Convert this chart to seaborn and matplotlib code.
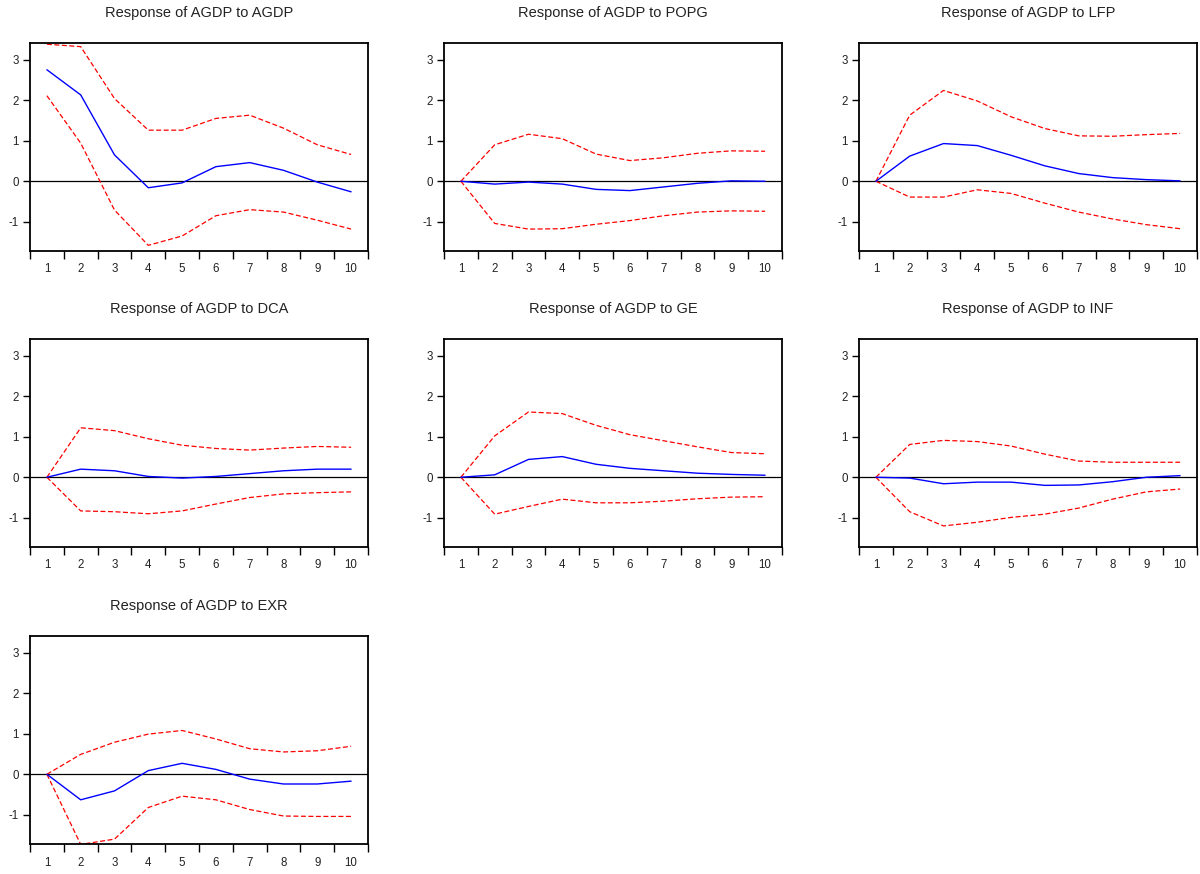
import matplotlib
matplotlib.use("Agg")
import matplotlib.pyplot as plt
import seaborn as sns
import pandas as pd
import numpy as np

sns.set_theme(style="white")
plt.rcParams['font.family'] = ['Liberation Sans', 'DejaVu Sans']

periods = [1, 2, 3, 4, 5, 6, 7, 8, 9, 10]
titles = ["Response of AGDP to AGDP", "Response of AGDP to POPG", "Response of AGDP to LFP",
          "Response of AGDP to DCA", "Response of AGDP to GE", "Response of AGDP to INF",
          "Response of AGDP to EXR"]

agdp_resp = [2.75, 2.13, 0.65, -0.16, -0.04, 0.36, 0.46, 0.27, -0.02, -0.26]
agdp_up = [3.38, 3.32, 2.04, 1.26, 1.26, 1.55, 1.63, 1.31, 0.90, 0.66]
agdp_lo = [2.11, 0.94, -0.71, -1.58, -1.35, -0.85, -0.70, -0.76, -0.96, -1.18]

popg_resp = [0.0, -0.07, -0.02, -0.07, -0.20, -0.23, -0.14, -0.05, 0.01, 0.0]
popg_up = [0.0, 0.90, 1.16, 1.05, 0.67, 0.51, 0.58, 0.69, 0.75, 0.74]
popg_lo = [0.0, -1.04, -1.18, -1.17, -1.06, -0.97, -0.85, -0.76, -0.73, -0.74]

lfp_resp = [0.0, 0.62, 0.93, 0.88, 0.64, 0.38, 0.19, 0.09, 0.04, 0.01]
lfp_up = [0.0, 1.63, 2.24, 1.98, 1.59, 1.30, 1.12, 1.11, 1.15, 1.18]
lfp_lo = [0.0, -0.39, -0.39, -0.21, -0.30, -0.54, -0.76, -0.93, -1.07, -1.17]

dca_resp = [0.0, 0.20, 0.16, 0.02, -0.02, 0.02, 0.09, 0.16, 0.20, 0.20]
dca_up = [0.0, 1.22, 1.15, 0.95, 0.79, 0.71, 0.67, 0.72, 0.76, 0.74]
dca_lo = [0.0, -0.83, -0.85, -0.90, -0.83, -0.66, -0.50, -0.41, -0.38, -0.36]

ge_resp = [0.0, 0.06, 0.44, 0.51, 0.32, 0.22, 0.16, 0.10, 0.07, 0.05]
ge_up = [0.0, 1.02, 1.61, 1.57, 1.28, 1.05, 0.90, 0.75, 0.61, 0.58]
ge_lo = [0.0, -0.91, -0.72, -0.54, -0.63, -0.63, -0.59, -0.53, -0.49, -0.48]

inf_resp = [0.0, -0.02, -0.16, -0.12, -0.12, -0.20, -0.19, -0.11, 0.0, 0.04]
inf_up = [0.0, 0.81, 0.91, 0.88, 0.77, 0.57, 0.40, 0.37, 0.37, 0.37]
inf_lo = [0.0, -0.85, -1.20, -1.11, -0.99, -0.91, -0.76, -0.54, -0.36, -0.29]

exr_resp = [0.0, -0.63, -0.41, 0.09, 0.27, 0.12, -0.12, -0.24, -0.24, -0.17]
exr_up = [0.0, 0.49, 0.79, 0.99, 1.08, 0.87, 0.63, 0.55, 0.58, 0.69]
exr_lo = [0.0, -1.73, -1.60, -0.82, -0.54, -0.63, -0.87, -1.03, -1.04, -1.04]

series = [(agdp_resp, agdp_up, agdp_lo), (popg_resp, popg_up, popg_lo), (lfp_resp, lfp_up, lfp_lo),
          (dca_resp, dca_up, dca_lo), (ge_resp, ge_up, ge_lo), (inf_resp, inf_up, inf_lo),
          (exr_resp, exr_up, exr_lo)]

W, H = 1200, 874
fig = plt.figure(figsize=(W / 100, H / 100), dpi=100)
fig.patch.set_facecolor("white")

col_left = [30, 444, 859]
row_top = [43, 339, 636]
aw, ah = 338, 208

for i, (title, (resp, up, lo)) in enumerate(zip(titles, series)):
    r, c = divmod(i, 3)
    left = col_left[c] / W
    bottom = 1 - (row_top[r] + ah) / H
    ax = fig.add_axes([left, bottom, aw / W, ah / H])
    df = pd.DataFrame({"period": periods, "resp": resp, "up": up, "lo": lo})
    ax.axhline(0, color="black", lw=0.9, zorder=1)
    sns.lineplot(data=df, x="period", y="up", ax=ax, color="red", lw=0.9, linestyle=(0, (4, 2)))
    sns.lineplot(data=df, x="period", y="lo", ax=ax, color="red", lw=0.9, linestyle=(0, (4, 2)))
    sns.lineplot(data=df, x="period", y="resp", ax=ax, color="blue", lw=1.0)
    ax.set_xlim(0.5, 10.5)
    ax.set_ylim(-1.72, 3.41)
    ax.set_xlabel("")
    ax.set_ylabel("")
    ax.set_title(title, fontsize=10.5, pad=19, color="#222222")
    ax.set_xticks(np.arange(0.5, 11.0, 1.0))
    ax.set_xticklabels([])
    ax.set_xticks(periods, minor=True)
    ax.set_xticklabels([str(p) for p in periods], minor=True, fontsize=8.3)
    ax.set_yticks([-1, 0, 1, 2, 3])
    ax.set_yticklabels(["-1", "0", "1", "2", "3"], fontsize=8.3)
    ax.tick_params(axis="x", which="major", direction="out", length=6, width=1, color="black", bottom=True)
    ax.tick_params(axis="x", which="minor", length=0, pad=9, colors="#222222")
    ax.tick_params(axis="y", which="major", direction="out", length=5, width=1, color="black", left=True, pad=3, labelcolor="#222222")
    for s in ax.spines.values():
        s.set_color("black")
        s.set_linewidth(1.3)
        s.set_visible(True)

fig.savefig("out.png", dpi=100, facecolor="white")
